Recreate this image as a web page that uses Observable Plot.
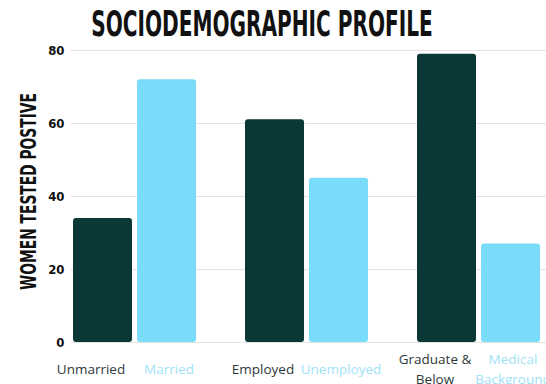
<!DOCTYPE html>
<html>
<head>
<meta charset="utf-8">
<script src="https://cdn.jsdelivr.net/npm/d3@7"></script>
<script src="https://cdn.jsdelivr.net/npm/@observablehq/plot@0.6"></script>
<style>
  html, body { margin: 0; padding: 0; background: #ffffff; }
  body { width: 546px; height: 384px; overflow: hidden; }
  #title { position: relative; height: 40px; width: 546px; }
  #title span {
    position: absolute;
    left: 262px;
    top: 4px;
    white-space: nowrap;
    font-family: "DejaVu Sans Condensed", "DejaVu Sans", sans-serif;
    font-weight: bold;
    font-size: 36px;
    line-height: 40px;
    color: #111111;
    transform: translateX(-50%) scaleX(0.62);
    transform-origin: center;
  }
  #chart svg { display: block; }
</style>
</head>
<body>
<div id="title"><span>SOCIODEMOGRAPHIC PROFILE</span></div>
<div id="chart"></div>
<script>
const groups = ["Marital status", "Employment", "Education"];
const categories = ["Unmarried", "Married", "Employed", "Unemployed", "Graduate &\nBelow", "Medical\nBackground"];
const categoryGroup = ["Marital status", "Marital status", "Employment", "Employment", "Education", "Education"];
const members = ["first", "second", "first", "second", "first", "second"];
const values = [34, 72, 61, 45, 79, 27];
const yTicks = [0, 20, 40, 60, 80];
const yLabel = "WOMEN TESTED POSTIVE";

const dark = "#0a3837";
const light = "#79dcfb";

const data = categories.map((c, i) => ({
  category: c, group: categoryGroup[i], member: members[i], value: values[i]
}));
const grid = groups.flatMap(g => yTicks.map(t => ({group: g, t})));

const condensed = "'DejaVu Sans Condensed', 'DejaVu Sans', sans-serif";

const chart = Plot.plot({
  width: 546,
  height: 344,
  marginTop: 10,
  marginLeft: 72,
  marginRight: 4,
  marginBottom: 42,
  style: {background: "#ffffff", overflow: "hidden"},
  fx: {domain: groups, paddingInner: 0.28, paddingOuter: 0, axis: null, label: null},
  x: {domain: ["first", "second"], paddingInner: 0.077, paddingOuter: 0, axis: null},
  y: {domain: [0, 80], axis: null},
  color: {domain: ["first", "second"], range: [dark, light]},
  marks: [
    Plot.ruleY(grid, {fx: "group", y: "t", stroke: "#e3e3e3", strokeWidth: 1, insetLeft: -2, insetRight: -48}),
    Plot.barY(data, {fx: "group", x: "member", y: "value", fill: "member", rx: 3}),
    Plot.axisY({
      ticks: yTicks, tickSize: 0, tickPadding: 9, label: null,
      fontSize: 13, fontWeight: "bold", fontFamily: condensed, fill: "#111111"
    }),
    Plot.text(data.filter(d => d.member === "first"), {
      fx: "group", x: "member", text: "category", frameAnchor: "bottom", dy: 25, dx: -12,
      lineAnchor: "middle", lineHeight: 1.45, fontSize: 13.5, fill: "#2f3a3a",
      fontFamily: "'Open Sans', sans-serif"
    }),
    Plot.text(data.filter(d => d.member === "second"), {
      fx: "group", x: "member", text: "category", frameAnchor: "bottom", dy: 25, dx: 2,
      lineAnchor: "middle", lineHeight: 1.45, fontSize: 13.5, fill: "#9fe2f7",
      fontFamily: "'Open Sans', sans-serif"
    }),
    Plot.text([yLabel], {
      fx: () => groups[0], text: d => d, frameAnchor: "left", dx: -45, dy: -5, rotate: -90,
      textAnchor: "middle",
      fontSize: 22, fontWeight: "bold", fontFamily: condensed, fill: "#111111"
    })
  ]
});
document.getElementById("chart").appendChild(chart);
d3.select(chart).selectAll("text")
  .filter(function() { return this.textContent === yLabel; })
  .attr("textLength", 197)
  .attr("lengthAdjust", "spacingAndGlyphs");
</script>
</body>
</html>
